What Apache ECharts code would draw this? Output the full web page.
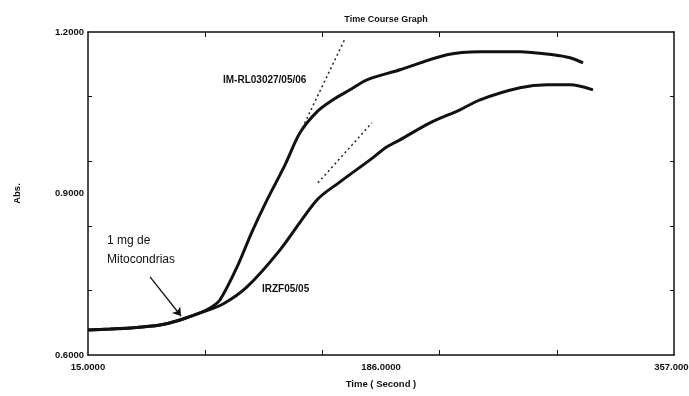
<!DOCTYPE html>
<html>
<head>
<meta charset="utf-8">
<script src="https://cdn.jsdelivr.net/npm/echarts@6/dist/echarts.min.js"></script>
<style>html,body{margin:0;padding:0;background:#fff}#c{width:689px;height:396px}</style>
</head>
<body>
<div id="c"></div>
<script>
// ---- data (time in seconds, absorbance) ----
const upperName = 'IM-RL03027/05/06';
const upperTime = [15, 27.8, 39.5, 57.0, 68.7, 80.4, 86.2, 92.0, 102.0, 110.7, 119.5, 130.0, 138.7, 148.6, 158.0, 167.9, 177.8, 197.1, 224.5, 243.8, 267.1, 286.4, 296.3, 303.9];
const upperAbs  = [0.6465, 0.6483, 0.6502, 0.6558, 0.6651, 0.6781, 0.6874, 0.7022, 0.7636, 0.8287, 0.8881, 0.9532, 1.0127, 1.0517, 1.0740, 1.0926, 1.1112, 1.1298, 1.1577, 1.1633, 1.1633, 1.1577, 1.1521, 1.1428];

const lowerName = 'IRZF05/05';
const lowerTime = [15, 27.8, 39.5, 57.0, 68.7, 80.4, 93.8, 107.8, 127.1, 148.6, 162.1, 179.6, 189.5, 197.1, 214.6, 232.1, 243.8, 267.1, 282.9, 296.3, 309.7];
const lowerAbs  = [0.6465, 0.6483, 0.6502, 0.6558, 0.6651, 0.6781, 0.6948, 0.7264, 0.7952, 0.8881, 0.9216, 0.9625, 0.9867, 0.9997, 1.0313, 1.0555, 1.0740, 1.0963, 1.1019, 1.1019, 1.0926];

// dotted tangent lines
const upperTangentTime = [137.6, 165.0];
const upperTangentAbs  = [1.0053, 1.1875];
const lowerTangentTime = [149.2, 180.7];
const lowerTangentAbs  = [0.9198, 1.0313];

// arrow annotation: tail -> head
const arrowTime = [51.2, 69.3];
const arrowAbs  = [0.745, 0.6725];

// axes
const xMin = 15, xMax = 357;
const xLabelValues = [15, 186, 357];
const xTickValues = [83.4, 151.8, 220.2, 288.6];
const yMin = 0.6, yMax = 1.2;
const yLabelValues = [0.6, 0.9, 1.2];
const yTickValues = [0.72, 0.84, 0.96, 1.08];

const titleText = 'Time Course Graph';
const xName = 'Time ( Second )';
const yName = 'Abs.';
const noteText = '1 mg de\nMitocondrias';

const pair = (a, b) => a.map((v, i) => [v, b[i]]);
const FONT = '"Liberation Sans", Arial, sans-serif';
const lbl = {fontFamily: FONT, fontWeight: 'bold', fontSize: 9.5, color: '#111'};

const chart = echarts.init(document.getElementById('c'), null, {renderer: 'canvas'});
chart.setOption({
  animation: false,
  backgroundColor: '#fff',
  title: {
    text: titleText, left: 381, top: 10, textAlign: 'center',
    textStyle: {fontFamily: FONT, fontWeight: 'bold', fontSize: 9, color: '#111'}
  },
  grid: {left: 88, right: 15, top: 32, bottom: 41, outerBoundsMode: 'none', containLabel: false},
  xAxis: [
    {
      type: 'value', min: xMin, max: xMax, position: 'bottom',
      name: xName, nameLocation: 'middle', nameGap: 24,
      nameTextStyle: lbl,
      axisLine: {show: true, lineStyle: {color: '#111', width: 1.5}},
      axisTick: {show: true, inside: true, length: 5, customValues: xTickValues, lineStyle: {color: '#111'}},
      axisLabel: Object.assign({customValues: xLabelValues, margin: 7, hideOverlap: false, formatter: v => v.toFixed(4)}, lbl),
      splitLine: {show: false}
    },
    {
      type: 'value', min: xMin, max: xMax, position: 'top',
      axisLine: {show: true, lineStyle: {color: '#111', width: 1.5}},
      axisTick: {show: true, inside: true, length: 5, customValues: xTickValues, lineStyle: {color: '#111'}},
      axisLabel: {show: false},
      splitLine: {show: false}
    }
  ],
  yAxis: [
    {
      type: 'value', min: yMin, max: yMax, position: 'left',
      name: yName, nameLocation: 'middle', nameGap: 66, nameRotate: 90,
      nameTextStyle: lbl,
      axisLine: {show: true, lineStyle: {color: '#111', width: 1.5}},
      axisTick: {show: true, inside: true, length: 4, customValues: yTickValues, lineStyle: {color: '#111'}},
      axisLabel: Object.assign({customValues: yLabelValues, margin: 4, formatter: v => v.toFixed(4)}, lbl),
      splitLine: {show: false}
    },
    {
      type: 'value', min: yMin, max: yMax, position: 'right',
      axisLine: {show: true, lineStyle: {color: '#111', width: 1.5}},
      axisTick: {show: true, inside: true, length: 4, customValues: yTickValues, lineStyle: {color: '#111'}},
      axisLabel: {show: false},
      splitLine: {show: false}
    }
  ],
  series: [
    {
      name: upperName, type: 'line', smooth: 0.3, showSymbol: false,
      data: pair(upperTime, upperAbs),
      lineStyle: {color: '#111', width: 3}
    },
    {
      name: lowerName, type: 'line', smooth: 0.3, showSymbol: false,
      data: pair(lowerTime, lowerAbs),
      lineStyle: {color: '#111', width: 3},
      markLine: {
        silent: true, symbol: ['none', 'arrow'], symbolSize: 8,
        label: {show: false},
        lineStyle: {color: '#111', width: 1.3, type: 'solid'},
        data: [[{coord: [arrowTime[0], arrowAbs[0]]}, {coord: [arrowTime[1], arrowAbs[1]]}]]
      }
    },
    {
      type: 'line', showSymbol: false, data: pair(upperTangentTime, upperTangentAbs),
      lineStyle: {color: '#222', width: 1.5, type: [2, 3]}
    },
    {
      type: 'line', showSymbol: false, data: pair(lowerTangentTime, lowerTangentAbs),
      lineStyle: {color: '#222', width: 1.5, type: [2, 3]}
    }
  ],
  graphic: [
    {type: 'text', left: 223, top: 75, style: {text: upperName, font: 'bold 10px ' + FONT, fill: '#111'}},
    {type: 'text', left: 262, top: 284, style: {text: lowerName, font: 'bold 10px ' + FONT, fill: '#111'}},
    {type: 'text', left: 107, top: 231, style: {text: noteText, font: '12px ' + FONT, fill: '#111', lineHeight: 19}}
  ]
});
</script>
</body>
</html>
